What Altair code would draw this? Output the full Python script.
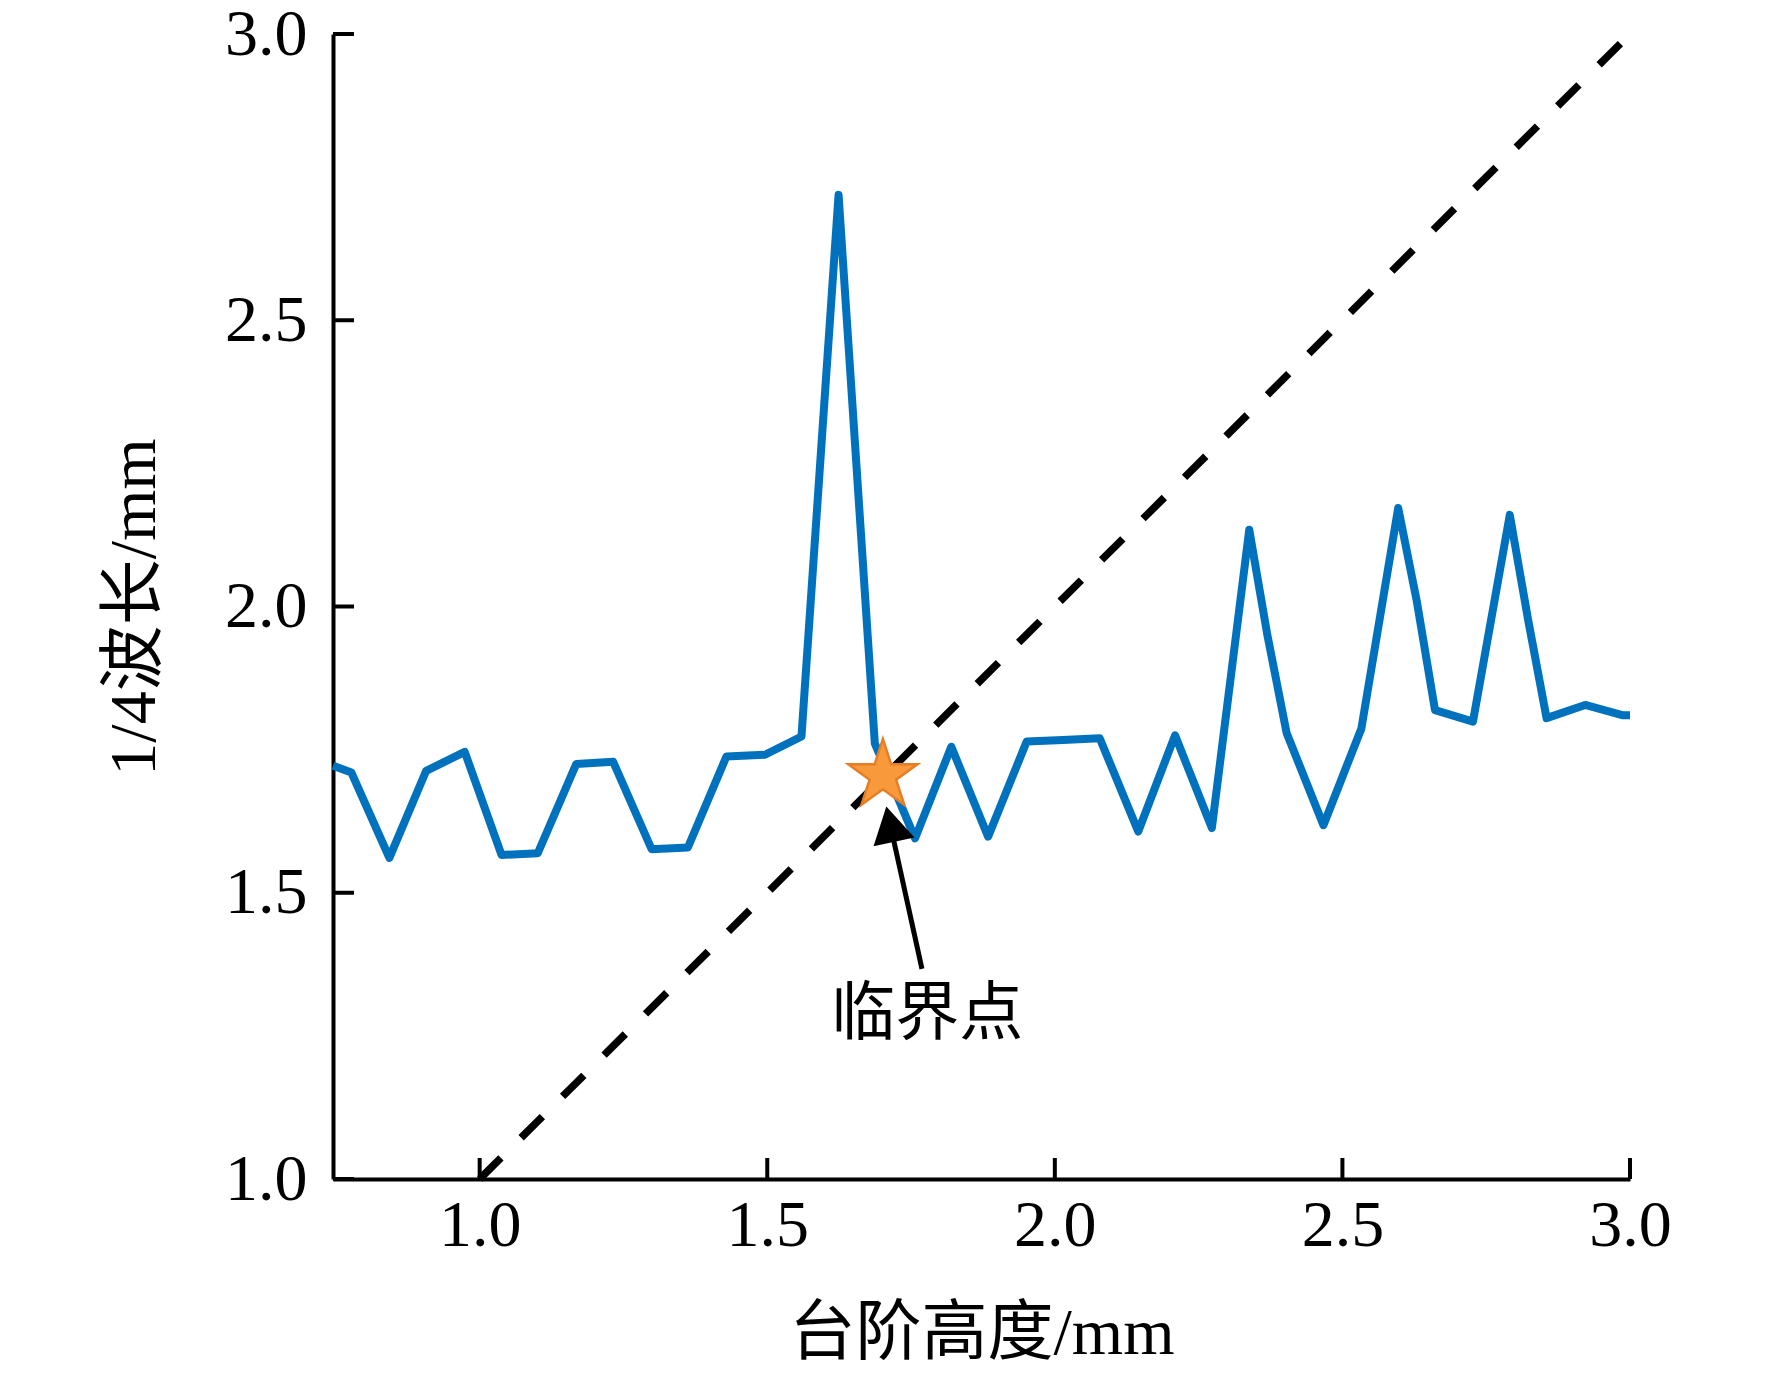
import altair as alt
import pandas as pd
import math

# ---- data ----
step_height = [0.745, 0.777, 0.843, 0.907, 0.974, 1.038, 1.101, 1.168, 1.232, 1.299,
               1.362, 1.429, 1.496, 1.5595, 1.624, 1.687, 1.757, 1.820, 1.884, 1.951,
               2.014, 2.078, 2.145, 2.209, 2.273, 2.338, 2.369, 2.403, 2.467, 2.533,
               2.597, 2.629, 2.661, 2.727, 2.791, 2.823, 2.855, 2.922, 2.988, 3.000]
quarter_wavelength = [1.722, 1.710, 1.561, 1.713, 1.746, 1.566, 1.569, 1.725, 1.729, 1.576,
                      1.579, 1.738, 1.741, 1.773, 2.719, 1.761, 1.595, 1.755, 1.598, 1.764,
                      1.767, 1.770, 1.607, 1.775, 1.613, 2.134, 1.953, 1.779, 1.618, 1.787,
                      2.172, 2.011, 1.819, 1.799, 2.160, 1.976, 1.805, 1.828, 1.810, 1.810]

ref_line = [1.0, 2.985]            # y = x reference line
critical_x = [1.701]
critical_y = [1.705]
arrow_tail = [1.769, 1.367]
arrow_head = [1.7137, 1.6197]
label_pos = [1.778, 1.2865]
label_text = ["临界点"]

x_ticks = [1.0, 1.5, 2.0, 2.5, 3.0]
y_ticks = [1.0, 1.5, 2.0, 2.5, 3.0]
x_domain = [0.745, 3.0]
y_domain = [1.0, 3.0]

W, H = 1297, 1145
FONT = "Liberation Serif, Noto Sans CJK SC"
BLUE = "#0072BD"

xs = alt.Scale(domain=x_domain, nice=False, zero=False)
ys = alt.Scale(domain=y_domain, nice=False, zero=False)

# star path (unit box)
pts = []
for i in range(10):
    r = 1.0 if i % 2 == 0 else 0.382
    a = math.radians(-90 + 36 * i)
    pts.append(f"{r*math.cos(a):.4f},{r*math.sin(a):.4f}")
star_path = "M" + "L".join(pts) + "Z"

curve_df = pd.DataFrame({"x": step_height, "y": quarter_wavelength})
ref_df = pd.DataFrame({"x": ref_line, "y": ref_line})
star_df = pd.DataFrame({"x": critical_x, "y": critical_y})
arrow_df = pd.DataFrame({"x": [arrow_tail[0]], "y": [arrow_tail[1]],
                         "x2": [arrow_head[0]], "y2": [arrow_head[1]]})
head_df = pd.DataFrame({"x": [arrow_head[0]], "y": [arrow_head[1]]})
label_df = pd.DataFrame({"x": [label_pos[0]], "y": [label_pos[1]], "t": label_text})
xt_df = pd.DataFrame({"v": x_ticks})
yt_df = pd.DataFrame({"v": y_ticks})

x_axis = alt.Axis(values=x_ticks, format=".1f", title="台阶高度/mm", grid=False,
                  ticks=False, tickSize=0, domainColor="black", domainWidth=4,
                  labelFont=FONT, labelFontSize=66, labelColor="black", labelPadding=14,
                  labelFlush=False, labelOverlap=False,
                  titleFont=FONT, titleFontSize=66, titleFontWeight="normal", titleColor="black",
                  titleX=W / 2, titleY=154, titleBaseline="middle", titleAlign="center")
y_axis = alt.Axis(values=y_ticks, format=".1f", title="1/4波长/mm", grid=False,
                  ticks=False, tickSize=0, domainColor="black", domainWidth=4,
                  labelFont=FONT, labelFontSize=66, labelColor="black", labelPadding=26,
                  labelFlush=False, labelOverlap=False,
                  titleFont=FONT, titleFontSize=66, titleFontWeight="normal", titleColor="black",
                  titleX=-199, titleY=H / 2, titleBaseline="middle", titleAlign="center",
                  titleAngle=270)

curve = alt.Chart(curve_df).mark_line(color=BLUE, strokeWidth=8, strokeJoin="round").encode(
    x=alt.X("x:Q", scale=xs, axis=x_axis),
    y=alt.Y("y:Q", scale=ys, axis=y_axis),
)

ref = alt.Chart(ref_df).mark_line(color="black", strokeWidth=7.5, strokeDash=[30, 28.5],
                                  strokeCap="butt").encode(
    x=alt.X("x:Q", scale=xs), y=alt.Y("y:Q", scale=ys))

xticks = alt.Chart(xt_df).mark_rule(color="black", strokeWidth=4).encode(
    x=alt.X("v:Q", scale=xs), y=alt.value(H), y2=alt.value(H - 21))
yticks = alt.Chart(yt_df).mark_rule(color="black", strokeWidth=4).encode(
    y=alt.Y("v:Q", scale=ys), x=alt.value(0), x2=alt.value(21))

arrow = alt.Chart(arrow_df).mark_rule(color="black", strokeWidth=5).encode(
    x=alt.X("x:Q", scale=xs), y=alt.Y("y:Q", scale=ys), x2="x2:Q", y2="y2:Q")
head = alt.Chart(head_df).mark_point(shape="triangle-up", filled=True, color="black",
                                     size=1750, angle=347.8, opacity=1).encode(
    x=alt.X("x:Q", scale=xs), y=alt.Y("y:Q", scale=ys))

star = alt.Chart(star_df).mark_point(shape=star_path, filled=True, fill="#F8993B",
                                     stroke="#E57E25", strokeWidth=2.5, size=5300,
                                     opacity=1).encode(
    x=alt.X("x:Q", scale=xs), y=alt.Y("y:Q", scale=ys))

label = alt.Chart(label_df).mark_text(font=FONT, fontSize=64, color="black",
                                      align="center", baseline="middle").encode(
    x=alt.X("x:Q", scale=xs), y=alt.Y("y:Q", scale=ys), text="t:N")

chart = alt.layer(ref, curve, xticks, yticks, arrow, head, star, label).properties(
    width=W, height=H,
    autosize=alt.AutoSizeParams(type="none"),
    padding={"left": 325, "top": 26, "right": 134, "bottom": 190},
    background="white",
).configure_view(stroke=None)

chart.save("out.html", embed_options={"renderer": "svg", "actions": False})
